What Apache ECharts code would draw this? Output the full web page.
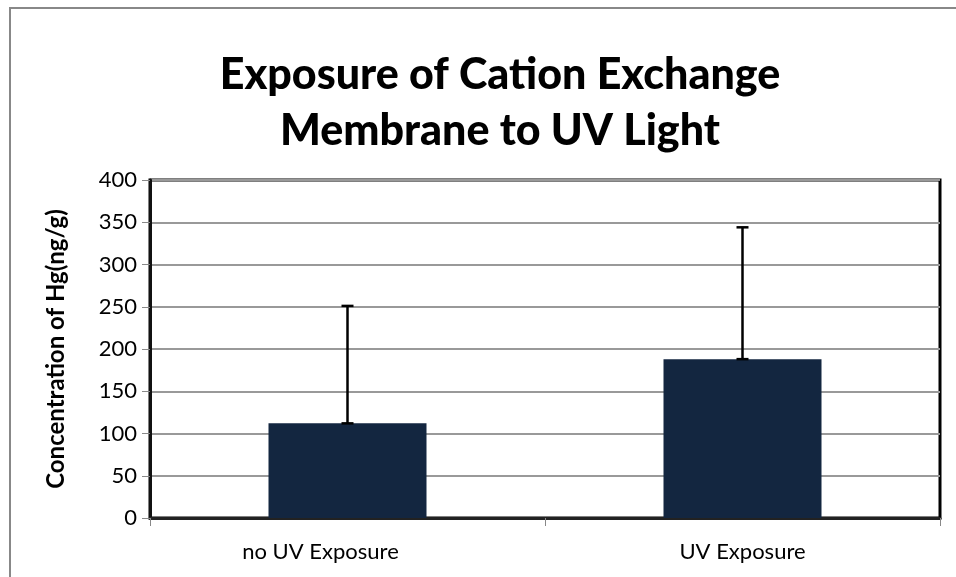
<!DOCTYPE html>
<html>
<head>
<meta charset="utf-8">
<script src="https://cdn.jsdelivr.net/npm/echarts@6/dist/echarts.min.js"></script>
<style>
  html, body { margin: 0; padding: 0; background: #fff; }
  #chart_wrap { width: 956px; height: 577px; }
</style>
</head>
<body>
<div id="chart_wrap"></div>
<script>
// 数据
var categories = ['no UV Exposure', 'UV Exposure'];
var hgValues = [112, 188];
var errPlus = [139, 156];   // 误差棒只向上
var yTicks = [0, 50, 100, 150, 200, 250, 300, 350, 400];

var chart = echarts.init(document.getElementById('chart_wrap'));

// 误差棒数据: [类别索引, 起点, 终点]
var errData = [];
for (var i = 0; i < categories.length; i++) {
    errData.push([i, hgValues[i], hgValues[i] + errPlus[i]]);
}

var option = {
    backgroundColor: '#fff',
    animation: false,
    title: {
        text: 'Exposure of Cation Exchange\nMembrane to UV Light',
        left: 495,
        top: 42,
        textAlign: 'center',
        textStyle: {
            fontFamily: 'Lato',
            fontWeight: 900,
            fontSize: 43,
            lineHeight: 56,
            color: '#000'
        }
    },
    graphic: [{
        type: 'rect',
        shape: { x: 10, y: 8, width: 960, height: 600 },
        style: { fill: 'none', stroke: '#888', lineWidth: 2 },
        silent: true
    }],
    grid: {
        left: 150,
        right: 16,
        top: 180,
        bottom: 59,
        show: true,
        borderColor: '#000',
        borderWidth: 3
    },
    xAxis: {
        type: 'category',
        data: categories,
        axisLine: { lineStyle: { color: '#222', width: 3 } },
        axisTick: { show: true, length: 8, lineStyle: { color: '#888', width: 1 } },
        axisLabel: {
            fontFamily: 'Lato',
            fontSize: 22,
            color: '#000',
            margin: 23,
            // 第一个标签在原图中略偏左
            formatter: function (v, idx) {
                return idx === 0 ? '{a|' + v + '}' : '{b|' + v + '}';
            },
            rich: {
                a: { fontFamily: 'Lato', fontSize: 22, color: '#000', padding: [0, 54, 0, 0] },
                b: { fontFamily: 'Lato', fontSize: 22, color: '#000' }
            }
        }
    },
    yAxis: {
        type: 'value',
        min: 0,
        max: 400,
        interval: 50,
        name: 'Concentration of Hg(ng/g)',
        nameLocation: 'middle',
        nameGap: 82,
        nameTextStyle: {
            fontFamily: 'Lato',
            fontWeight: 'bold',
            fontSize: 24,
            color: '#000'
        },
        axisLine: { show: true, lineStyle: { color: '#111', width: 3 } },
        axisTick: { show: true, length: 8, lineStyle: { color: '#888', width: 1 } },
        axisLabel: {
            fontFamily: 'Lato',
            fontSize: 22,
            color: '#000',
            margin: 13,
            formatter: function (v) {
                return yTicks.indexOf(v) >= 0 ? String(v) : '';
            }
        },
        splitLine: { lineStyle: { color: '#999', width: 2 } }
    },
    series: [
        {
            name: 'Hg',
            type: 'bar',
            data: hgValues,
            barWidth: '40%',
            itemStyle: { color: '#132640' },
            z: 2
        },
        {
            name: 'error',
            type: 'custom',
            data: errData,
            z: 3,
            renderItem: function (params, api) {
                var x = api.value(0);
                var low = api.coord([x, api.value(1)]);
                var high = api.coord([x, api.value(2)]);
                var cap = 6;
                var st = { stroke: '#000', lineWidth: 2.5 };
                return {
                    type: 'group',
                    children: [
                        { type: 'line', shape: { x1: low[0], y1: low[1], x2: high[0], y2: high[1] }, style: st },
                        { type: 'line', shape: { x1: high[0] - cap, y1: high[1], x2: high[0] + cap, y2: high[1] }, style: st },
                        { type: 'line', shape: { x1: low[0] - cap, y1: low[1], x2: low[0] + cap, y2: low[1] }, style: st }
                    ]
                };
            }
        }
    ]
};

chart.setOption(option);
</script>
</body>
</html>
